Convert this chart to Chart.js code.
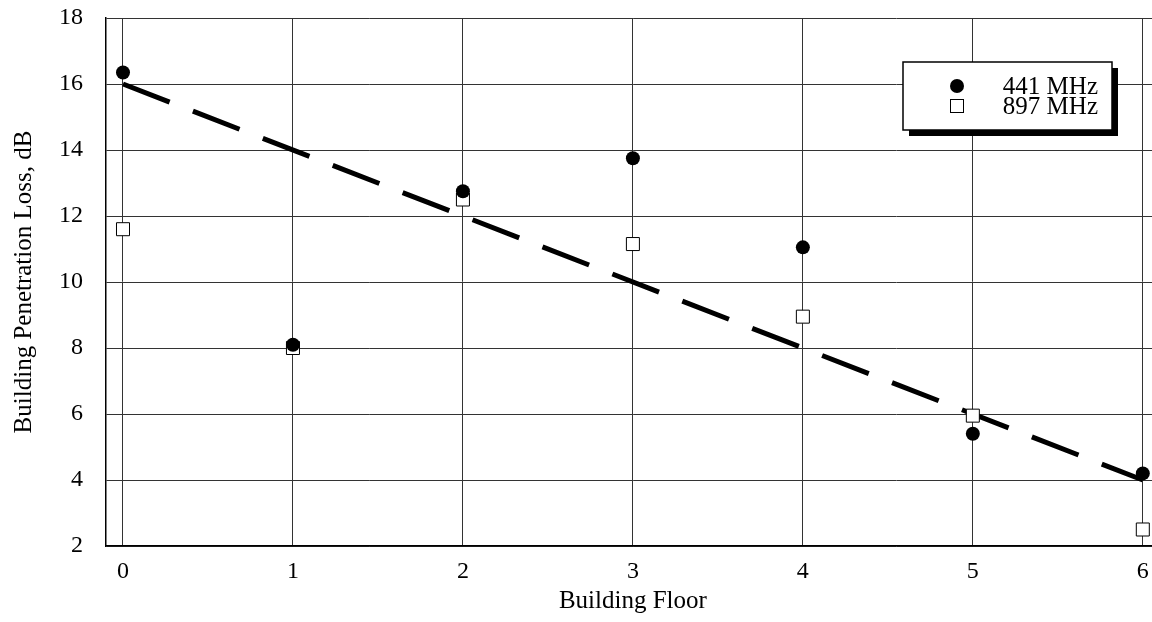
<!DOCTYPE html>
<html lang="en">
<head>
<meta charset="UTF-8">
<title>Building Penetration Loss</title>
<script src="https://cdn.jsdelivr.net/npm/chart.js"></script>
<style>
    html, body {
        margin: 0;
        padding: 0;
        overflow: hidden;
        background: #fff;
    }
    #chart {
        display: block;
    }
    #fontprobe {
        position: absolute;
        left: -9999px;
        font-family: "Liberation Serif";
    }
</style>
</head>
<body>
<canvas id="chart" width="1170" height="622"></canvas>
<span id="fontprobe">Building Floor 0123456789</span>

<script>
    // values
    var floors = [0, 1, 2, 3, 4, 5, 6];
    var loss441 = [16.35, 8.1, 12.75, 13.75, 11.05, 5.4, 4.2];
    var loss897 = [11.6, 8.0, 12.5, 11.15, 8.95, 5.95, 2.5];
    var fitFloors = [0, 6];
    var fitLoss = [16, 4];
    var xTicks = [0, 1, 2, 3, 4, 5, 6];
    var yTicks = [2, 4, 6, 8, 10, 12, 14, 16, 18];
    var legendLabels = ['441 MHz', '897 MHz'];

    var serif = "'Liberation Serif', 'Times New Roman', Times, serif";

    function toPoints(xs, ys) {
        return xs.map(function (x, i) { return { x: x, y: ys[i] }; });
    }

    // boxed legend with a drop shadow, top right of the plot
    var boxLegend = {
        id: 'boxLegend',
        afterDraw: function (chart) {
            var ctx = chart.ctx;
            var x = 903, y = 62, w = 209, h = 68;
            ctx.save();
            ctx.fillStyle = '#000';
            ctx.fillRect(x + 6, y + 6, w, h);
            ctx.fillStyle = '#fff';
            ctx.fillRect(x, y, w, h);
            ctx.strokeStyle = '#000';
            ctx.lineWidth = 1.5;
            ctx.strokeRect(x, y, w, h);

            ctx.beginPath();
            ctx.arc(957, 86, 7, 0, Math.PI * 2);
            ctx.fillStyle = '#000';
            ctx.fill();

            ctx.lineWidth = 1;
            ctx.strokeRect(950.5, 99.5, 13, 13);

            ctx.font = '25px ' + serif;
            ctx.textAlign = 'right';
            ctx.textBaseline = 'alphabetic';
            ctx.fillStyle = '#000';
            ctx.fillText(legendLabels[0], 1098, 94);
            ctx.fillText(legendLabels[1], 1098, 114);
            ctx.restore();
        }
    };

    function drawChart() {
        var ctx = document.getElementById('chart').getContext('2d');
        new Chart(ctx, {
            type: 'scatter',
            data: {
                datasets: [{
                    label: legendLabels[0],
                    data: toPoints(floors, loss441),
                    pointStyle: 'circle',
                    pointRadius: 7,
                    backgroundColor: '#000',
                    borderColor: '#000',
                    borderWidth: 0
                }, {
                    label: legendLabels[1],
                    data: toPoints(floors, loss897),
                    pointStyle: 'rect',
                    pointRadius: 9.2,
                    backgroundColor: '#fff',
                    borderColor: '#000',
                    borderWidth: 1
                }, {
                    label: 'fit',
                    data: toPoints(fitFloors, fitLoss),
                    showLine: true,
                    pointRadius: 0,
                    borderColor: '#000',
                    borderWidth: 5,
                    borderDash: [50, 25],
                    fill: false
                }]
            },
            options: {
                responsive: false,
                animation: false,
                layout: {
                    padding: { top: 18, right: 7, left: 0, bottom: 0 }
                },
                plugins: {
                    legend: { display: false },
                    tooltip: { enabled: false }
                },
                scales: {
                    x: {
                        type: 'linear',
                        min: -0.1,
                        max: 6.1,
                        afterBuildTicks: function (scale) {
                            scale.ticks = xTicks.map(function (v) { return { value: v }; });
                        },
                        afterFit: function (scale) {
                            scale.height = 76;
                        },
                        grid: {
                            color: '#333',
                            lineWidth: 1,
                            drawTicks: true,
                            tickLength: 11,
                            tickColor: 'rgba(0,0,0,0)'
                        },
                        border: { color: '#000', width: 1.5 },
                        ticks: {
                            padding: 0,
                            color: '#000',
                            font: { family: serif, size: 24 }
                        },
                        title: {
                            display: true,
                            text: 'Building Floor',
                            color: '#000',
                            padding: { top: 0, bottom: 6 },
                            font: { family: serif, size: 25 }
                        }
                    },
                    y: {
                        min: 2,
                        max: 18,
                        afterBuildTicks: function (scale) {
                            scale.ticks = yTicks.map(function (v) { return { value: v }; });
                        },
                        afterFit: function (scale) {
                            scale.width = 106;
                        },
                        grid: {
                            color: '#333',
                            lineWidth: 1,
                            drawTicks: true,
                            tickLength: 23,
                            tickColor: 'rgba(0,0,0,0)'
                        },
                        border: { color: '#000', width: 1.5 },
                        ticks: {
                            padding: 0,
                            color: '#000',
                            font: { family: serif, size: 24 }
                        },
                        title: {
                            display: true,
                            text: 'Building Penetration Loss, dB',
                            color: '#000',
                            padding: { top: 9, bottom: 0 },
                            font: { family: serif, size: 25 }
                        }
                    }
                }
            },
            plugins: [boxLegend]
        });
    }

    if (document.fonts && document.fonts.load) {
        document.fonts.load("24px 'Liberation Serif'").then(drawChart, drawChart);
    } else {
        drawChart();
    }
</script>
</body>
</html>
